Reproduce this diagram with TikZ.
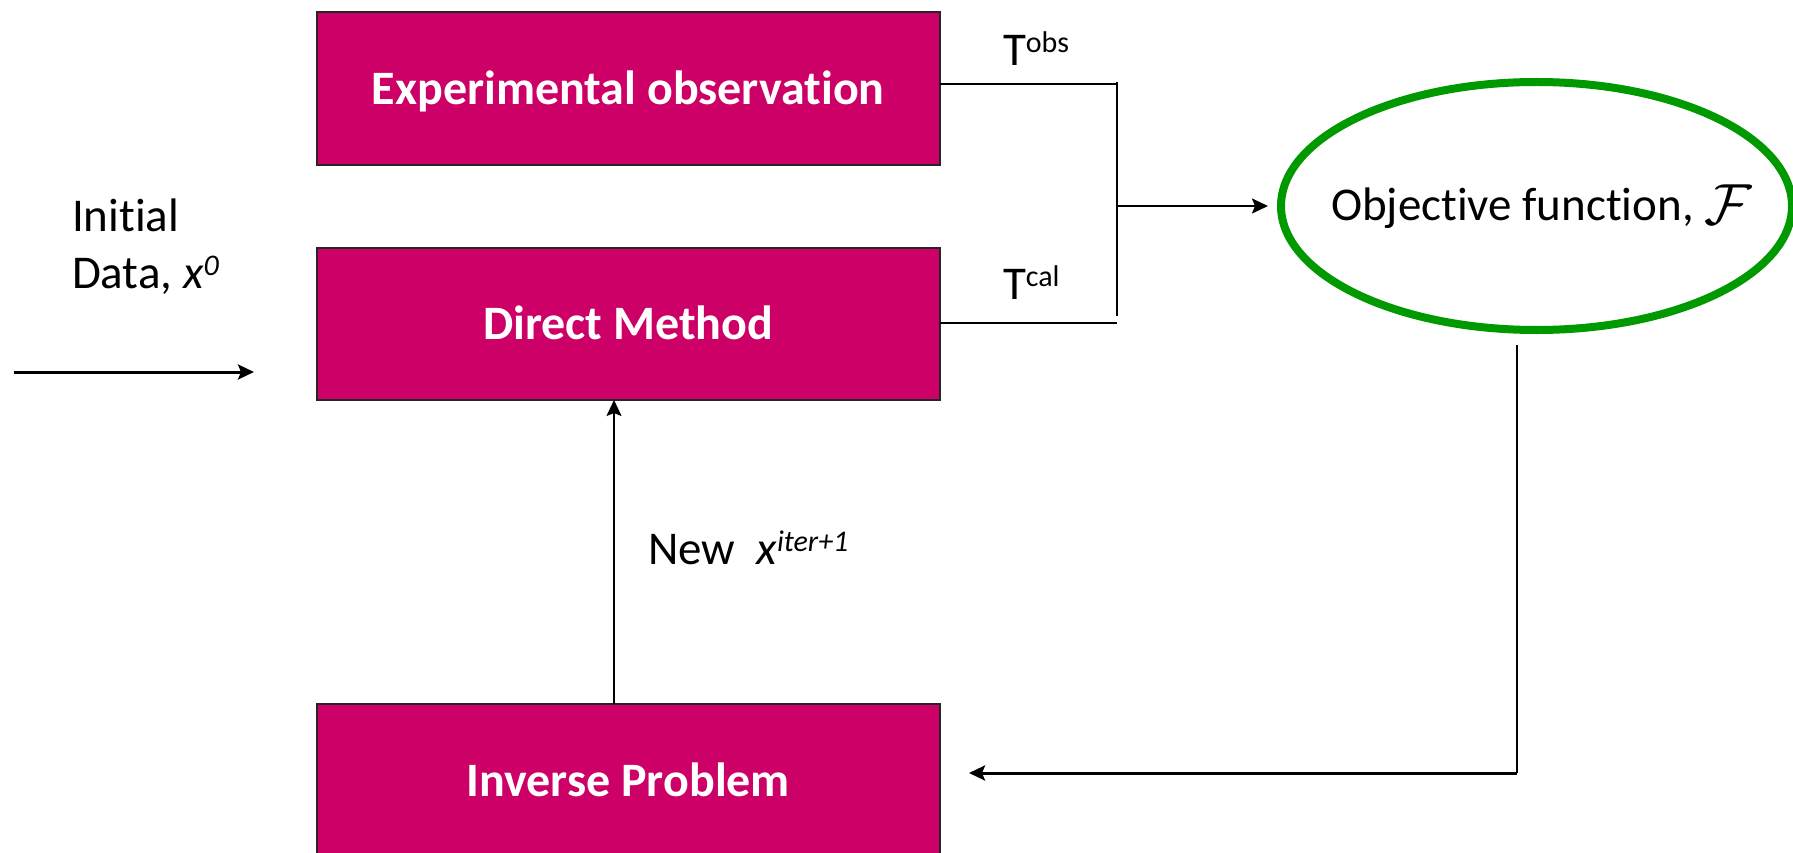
\RequirePackage{fix-cm}
\documentclass[tikz,border=0pt]{standalone}
\usepackage{fontspec}
\setmainfont[Ligatures=NoCommon]{Carlito}
\usetikzlibrary{arrows.meta,shapes.geometric}
\definecolor{boxfill}{HTML}{CC0066}
\definecolor{objgreen}{HTML}{009900}
% raised, smaller text after a symbol (T^obs, x^0, ...)
\newcommand\raisedtxt[1]{\raisebox{13pt}{\fontsize{30}{30}\selectfont #1}}

\begin{document}
\begin{tikzpicture}[x=1pt,y=-1pt,
  stagebox/.style={rectangle, fill=boxfill, draw=black!85, line width=2pt,
    minimum width=623.5pt, inner sep=0pt, outer sep=0pt, text=white,
    text height=31.6pt, text depth=0pt,
    font=\fontsize{48}{57}\selectfont\bfseries},
  objell/.style={ellipse, draw=objgreen, line width=8pt, minimum width=511pt,
    minimum height=248pt, inner sep=0pt, outer sep=0pt},
  lbl/.style={inner sep=0pt, outer sep=0pt, anchor=base west,
    font=\fontsize{47}{56}\selectfont},
  wire/.style={line width=2pt, draw=black},
  arr/.style={wire, -{Stealth[length=16pt,width=15pt,inset=3pt]}}
]
\clip (0,0) rectangle (1793,853);
\fill[white] (0,0) rectangle (1793,853);

% process boxes
\node[stagebox, minimum height=153pt] (exp) at (628.25,88.5) {Experimental observation};
\node[stagebox, minimum height=152pt] (dir) at (628.25,324) {Direct Method};
\node[stagebox, minimum height=153pt] (inv) at (628.25,780.5) {Inverse Problem};

% objective function
\node[objell] (obj) at (1536.5,206) {};
\node[lbl] (objtxt) at (1331,221) {Objective function, \raisebox{-4pt}{\fontsize{58}{58}\selectfont$\mathcal{F}$}};

% text labels
\node[lbl] (init1) at (72,231) {Initial};
\node[lbl] (init2) at (72,288) {Data, \textit{x}\raisedtxt{\textit{0}}};
\node[lbl] (tobs) at (1003,66) {T\raisedtxt{obs}};
\node[lbl] (tcal) at (1003,299.5) {T\raisedtxt{cal}};
\node[lbl] (newx) at (648,564) {New\ \ \textit{x}\raisedtxt{\textit{iter+1}}};

% junction of the two temperature lines
\coordinate (jtop) at (1117,82);
\coordinate (jbot) at (1117,316);
\coordinate (jmid) at (1117,206);
\draw[wire] ([yshift=4.5pt]exp.east) -- ([yshift=4.5pt]exp.east -| jtop);
\draw[wire] ([yshift=1.5pt]dir.east) -- ([yshift=1.5pt]dir.east -| jtop);
\draw[wire] (jtop) -- (jbot);
\draw[arr] (jmid) -- ([xshift=-13pt]obj.west);

% initial data
\coordinate (start) at (13.5,372);
\draw[arr, line width=3pt] (start) -- ([xshift=-62.5pt]dir.west |- start);

% new estimate back into the direct method
\draw[arr] ([xshift=-14.25pt]inv.north) -- ([xshift=-14.25pt]dir.south);

% feedback from the objective function
\coordinate (fb) at (1517,345);
\coordinate (fbend) at (1517,773);
\draw[wire] (fb) -- (fbend);
\draw[arr, line width=3pt] (fbend) -- ([xshift=29pt]inv.east |- fbend);
\end{tikzpicture}
\end{document}
